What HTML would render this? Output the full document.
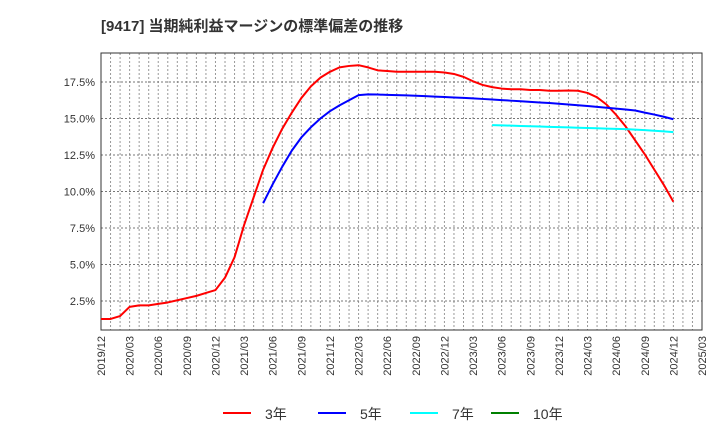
<!DOCTYPE html>
<html><head><meta charset="utf-8"><style>
body{margin:0;background:#fff;width:720px;height:440px;overflow:hidden;font-family:"Liberation Sans","Noto Sans CJK JP",sans-serif}
</style></head><body>
<svg id="c" width="720" height="440" font-family="Liberation Sans, Noto Sans CJK JP, sans-serif">
<text x="101" y="31" font-size="15" font-weight="bold" fill="#333">[9417]  当期純利益マージンの標準偏差の推移</text>
</svg>
<script>
const xLabels=["2019/12","2020/03","2020/06","2020/09","2020/12","2021/03","2021/06","2021/09","2021/12","2022/03","2022/06","2022/09","2022/12","2023/03","2023/06","2023/09","2023/12","2024/03","2024/06","2024/09","2024/12","2025/03"];
const yTicks=[2.5,5.0,7.5,10.0,12.5,15.0,17.5];
const red=[1.27,1.27,1.47,2.1,2.2,2.2,2.3,2.4,2.55,2.7,2.85,3.05,3.25,4.1,5.5,7.7,9.6,11.5,13.0,14.3,15.4,16.4,17.2,17.8,18.2,18.5,18.6,18.65,18.5,18.3,18.25,18.2,18.2,18.2,18.2,18.2,18.15,18.05,17.85,17.55,17.3,17.15,17.05,17.0,17.0,16.95,16.95,16.9,16.9,16.92,16.9,16.75,16.45,15.95,15.25,14.45,13.5,12.55,11.5,10.45,9.3];
const redStart=0;
const blue=[9.2,10.5,11.7,12.8,13.7,14.4,15.0,15.5,15.9,16.25,16.6,16.65,16.64,16.62,16.6,16.58,16.56,16.53,16.5,16.47,16.44,16.41,16.38,16.34,16.3,16.26,16.22,16.18,16.14,16.1,16.06,16.01,15.96,15.91,15.86,15.8,15.74,15.68,15.62,15.55,15.4,15.27,15.12,14.95];
const blueStart=17;
const cyan=[14.55,14.53,14.51,14.49,14.47,14.45,14.43,14.41,14.39,14.37,14.35,14.33,14.31,14.29,14.27,14.24,14.2,14.16,14.12,14.07];
const cyanStart=41;
const L=101,R=702,T=53,B=330,N=63;
const xs=m=>L+m*(R-L)/N;
const ys=v=>337.5-v*14.6;
const svg=document.getElementById('c');
const NS='http://www.w3.org/2000/svg';
function mk(t,a){const e=document.createElementNS(NS,t);for(const k in a)e.setAttribute(k,a[k]);svg.appendChild(e);return e;}
for(let m=1;m<N;m++){const g=mk('line',{x1:xs(m),x2:xs(m),y1:T,y2:B,stroke:'#999','stroke-dasharray':'2,2','stroke-width':1});

}
yTicks.forEach(v=>{const g=mk('line',{x1:L,x2:R,y1:ys(v),y2:ys(v),stroke:'#777','stroke-dasharray':'2,2','stroke-width':1});


const t=mk('text',{x:L-6,y:ys(v)+4,'text-anchor':'end','font-size':11,fill:'#333'});t.textContent=v.toFixed(1)+'%';

});
xLabels.forEach((s,i)=>{const x=xs(i*3);const t=mk('text',{transform:`translate(${x+4},${B+6}) rotate(-90)`,'text-anchor':'end','font-size':11,fill:'#333'});t.textContent=s;

});
const fr=mk('rect',{x:L,y:T,width:R-L,height:B-T,fill:'none',stroke:'#333','stroke-width':1});


function line(d,s,c,n){const p=mk('polyline',{points:d.map((v,i)=>xs(s+i)+','+ys(v)).join(' '),fill:'none',stroke:c,'stroke-width':2,'stroke-linejoin':'round'});

}
line(red,redStart,'#ff0000','series-3y');
line(blue,blueStart,'#0000ff','series-5y');
line(cyan,cyanStart,'#00ffff','series-7y');
const leg=[['3年','#ff0000',223],['5年','#0000ff',318],['7年','#00ffff',410],['10年','#008000',491]];
leg.forEach(([n,c,x])=>{const l=mk('line',{x1:x,x2:x+28,y1:413,y2:413,stroke:c,'stroke-width':2});


const t=mk('text',{x:x+42,y:419,'font-size':14,fill:'#333'});t.textContent=n;

});
</script>
</body></html>
